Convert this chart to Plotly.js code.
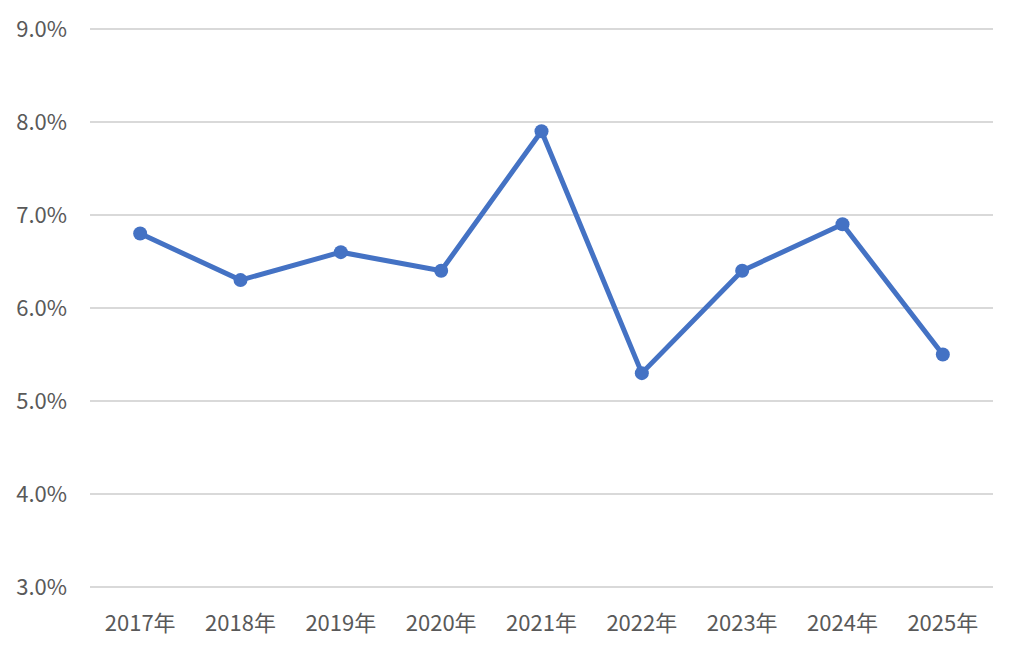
<!DOCTYPE html>
<html>
<head>
<meta charset="utf-8">
<script src="https://cdn.plot.ly/plotly-3.0.1.min.js"></script>
<style>html,body{margin:0;padding:0;background:#fff;}#chart{width:1024px;height:661px;}</style>
</head>
<body>
<div id="chart"></div>
<script>
const years = ["2017年","2018年","2019年","2020年","2021年","2022年","2023年","2024年","2025年"];
const rates = [6.8, 6.3, 6.6, 6.4, 7.9, 5.3, 6.4, 6.9, 5.5];
const yTickVals = [3, 4, 5, 6, 7, 8, 9];
const yTickText = ["3.0%","4.0%","5.0%","6.0%","7.0%","8.0%","9.0%"];

const trace = {
  x: years,
  y: rates,
  type: 'scatter',
  mode: 'lines+markers',
  line: {color: '#4472C4', width: 5},
  marker: {color: '#4472C4', size: 14},
  hoverinfo: 'skip'
};
const fontFam = '"Noto Sans CJK SC", "Noto Sans", sans-serif';
const layout = {
  width: 1024, height: 661,
  margin: {l: 90, r: 31, t: 27, b: 72},
  paper_bgcolor: '#fff', plot_bgcolor: '#fff',
  showlegend: false,
  font: {family: fontFam, size: 22, color: '#595959'},
  xaxis: {
    type: 'category',
    range: [-0.5, 8.5],
    showgrid: false, zeroline: false, showline: false,
    ticks: '', ticklabelstandoff: 19,
    tickfont: {family: fontFam, size: 22, color: '#595959'}
  },
  yaxis: {
    range: [2.98, 9.02],
    tickvals: yTickVals, ticktext: yTickText,
    showgrid: true, gridcolor: '#d9d9d9', gridwidth: 1.3,
    zeroline: false, showline: false, ticks: '',
    ticklabelstandoff: 22,
    tickfont: {family: fontFam, size: 22, color: '#595959'}
  }
};
Plotly.newPlot('chart', [trace], layout, {displayModeBar: false, staticPlot: true});
</script>
</body>
</html>
